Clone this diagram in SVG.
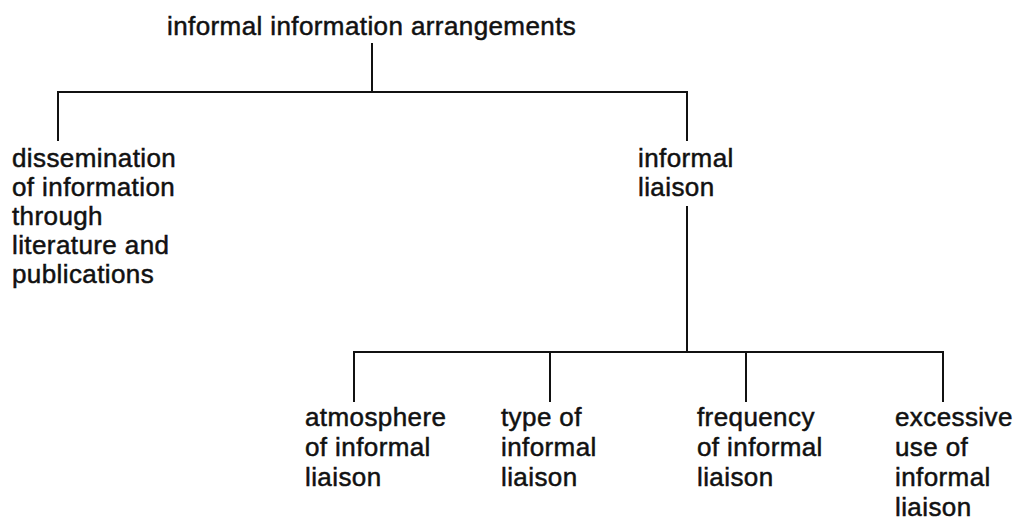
<svg xmlns="http://www.w3.org/2000/svg" width="1015" height="524" viewBox="0 0 1015 524">
  <style>
    .lbl { font-family: "Liberation Sans", Arial, Helvetica, sans-serif; font-size: 26px; letter-spacing: 0.4px; fill: #111; stroke: #111; stroke-width: 0.5px; }
    .wire { fill: none; stroke: #111; stroke-width: 2; stroke-linecap: square; }
  </style>
  <rect width="1015" height="524" fill="#fff"/>

  <g id="connectors">
    <!-- root to first level -->
    <path class="wire" d="M372 44 V92 M58 140 V92 H687 V140"/>
    <!-- informal liaison to its four aspects -->
    <path class="wire" d="M687 207 V352 M354 401 V352 H943 V401 M550 352 V401 M746 352 V401"/>
  </g>

  <g id="root">
    <text class="lbl" x="167" y="35">informal information arrangements</text>
  </g>

  <g id="dissemination">
    <text class="lbl" x="12" y="167">
      <tspan x="12" dy="0">dissemination</tspan>
      <tspan x="12" dy="29">of information</tspan>
      <tspan x="12" dy="29">through</tspan>
      <tspan x="12" dy="29">literature and</tspan>
      <tspan x="12" dy="29">publications</tspan>
    </text>
  </g>

  <g id="informal-liaison">
    <text class="lbl" x="638" y="167">
      <tspan x="638" dy="0">informal</tspan>
      <tspan x="638" dy="29">liaison</tspan>
    </text>
  </g>

  <g id="atmosphere">
    <text class="lbl" x="305" y="426">
      <tspan x="305" dy="0">atmosphere</tspan>
      <tspan x="305" dy="30">of informal</tspan>
      <tspan x="305" dy="30">liaison</tspan>
    </text>
  </g>

  <g id="type">
    <text class="lbl" x="501" y="426">
      <tspan x="501" dy="0">type of</tspan>
      <tspan x="501" dy="30">informal</tspan>
      <tspan x="501" dy="30">liaison</tspan>
    </text>
  </g>

  <g id="frequency">
    <text class="lbl" x="697" y="426">
      <tspan x="697" dy="0">frequency</tspan>
      <tspan x="697" dy="30">of informal</tspan>
      <tspan x="697" dy="30">liaison</tspan>
    </text>
  </g>

  <g id="excessive">
    <text class="lbl" x="895" y="426">
      <tspan x="895" dy="0">excessive</tspan>
      <tspan x="895" dy="30">use of</tspan>
      <tspan x="895" dy="30">informal</tspan>
      <tspan x="895" dy="30">liaison</tspan>
    </text>
  </g>
</svg>
